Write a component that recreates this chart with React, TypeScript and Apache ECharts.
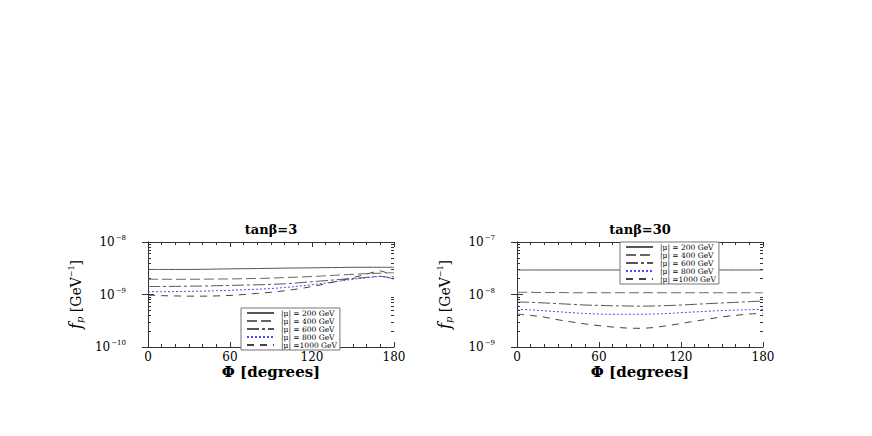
import React, { useEffect, useRef } from "react";
import * as echarts from "echarts";

// Φ in degrees
const PHI = [0, 10, 20, 30, 40, 50, 60, 70, 80, 90, 100, 110, 120, 130, 140, 150, 160, 170, 180];

const MU_NAMES = ["|μ| = 200 GeV", "|μ| = 400 GeV", "|μ| = 600 GeV", "|μ| = 800 GeV", "|μ| =1000 GeV"];

// tanβ = 3  (f_p in GeV^-1)
const T3_MU200 = [3.0e-9, 3.0e-9, 3.0e-9, 3.0e-9, 3.02e-9, 3.05e-9, 3.08e-9, 3.1e-9, 3.12e-9, 3.15e-9, 3.18e-9, 3.2e-9, 3.22e-9, 3.25e-9, 3.27e-9, 3.3e-9, 3.3e-9, 3.3e-9, 3.3e-9];
const T3_MU400 = [1.95e-9, 1.95e-9, 1.95e-9, 1.95e-9, 1.96e-9, 1.97e-9, 1.98e-9, 2.0e-9, 2.02e-9, 2.05e-9, 2.1e-9, 2.15e-9, 2.2e-9, 2.27e-9, 2.35e-9, 2.42e-9, 2.5e-9, 2.55e-9, 2.6e-9];
const T3_MU600 = [1.42e-9, 1.42e-9, 1.43e-9, 1.44e-9, 1.45e-9, 1.47e-9, 1.49e-9, 1.51e-9, 1.53e-9, 1.56e-9, 1.6e-9, 1.67e-9, 1.75e-9, 1.84e-9, 1.93e-9, 2.02e-9, 2.12e-9, 2.22e-9, 2.0e-9];
const T3_MU800 = [1.13e-9, 1.13e-9, 1.14e-9, 1.15e-9, 1.16e-9, 1.18e-9, 1.2e-9, 1.23e-9, 1.26e-9, 1.3e-9, 1.36e-9, 1.44e-9, 1.54e-9, 1.66e-9, 1.8e-9, 1.95e-9, 2.08e-9, 2.2e-9, 1.95e-9];
const T3_MU1000 = [0.97e-9, 0.95e-9, 0.94e-9, 0.93e-9, 0.93e-9, 0.94e-9, 0.96e-9, 1.0e-9, 1.05e-9, 1.1e-9, 1.18e-9, 1.28e-9, 1.42e-9, 1.6e-9, 1.82e-9, 2.1e-9, 2.45e-9, 2.8e-9, 2.1e-9];

// tanβ = 30
const T30_MU200 = [2.93e-8, 2.93e-8, 2.93e-8, 2.93e-8, 2.93e-8, 2.93e-8, 2.93e-8, 2.93e-8, 2.93e-8, 2.93e-8, 2.93e-8, 2.93e-8, 2.93e-8, 2.93e-8, 2.93e-8, 2.93e-8, 2.93e-8, 2.93e-8, 2.93e-8];
const T30_MU400 = [1.1e-8, 1.1e-8, 1.09e-8, 1.09e-8, 1.08e-8, 1.08e-8, 1.08e-8, 1.08e-8, 1.08e-8, 1.08e-8, 1.08e-8, 1.08e-8, 1.08e-8, 1.08e-8, 1.08e-8, 1.08e-8, 1.08e-8, 1.08e-8, 1.08e-8];
const T30_MU600 = [7.2e-9, 7.1e-9, 6.9e-9, 6.7e-9, 6.5e-9, 6.3e-9, 6.2e-9, 6.1e-9, 6.05e-9, 6.0e-9, 6.05e-9, 6.15e-9, 6.3e-9, 6.5e-9, 6.7e-9, 6.9e-9, 7.1e-9, 7.3e-9, 7.5e-9];
const T30_MU800 = [5.2e-9, 5.1e-9, 4.9e-9, 4.7e-9, 4.5e-9, 4.35e-9, 4.25e-9, 4.2e-9, 4.2e-9, 4.2e-9, 4.25e-9, 4.35e-9, 4.5e-9, 4.65e-9, 4.8e-9, 4.95e-9, 5.05e-9, 5.15e-9, 5.2e-9];
const T30_MU1000 = [4.25e-9, 4.0e-9, 3.7e-9, 3.3e-9, 3.0e-9, 2.75e-9, 2.55e-9, 2.4e-9, 2.3e-9, 2.27e-9, 2.35e-9, 2.55e-9, 2.8e-9, 3.1e-9, 3.4e-9, 3.75e-9, 4.0e-9, 4.25e-9, 4.4e-9];

const TITLES = ["tanβ=3", "tanβ=30"];
const Y_RANGES = [[1e-10, 1e-8], [1e-9, 1e-7]];
const X_TICKS = [0, 60, 120, 180];

const FONT = "DejaVu Serif";

const LINE_STYLES: any[] = [
  { color: "#555", width: 1, type: "solid" },
  { color: "#666", width: 1, type: [10, 4] },
  { color: "#555", width: 1, type: [12, 3, 3, 3] },
  { color: "#4a4aff", width: 1, type: [2, 2] },
  { color: "#444", width: 1, type: [7, 6] },
];

function minorValues(min: number, max: number) {
  const out: number[] = [];
  for (let d = min; d < max * 0.999; d *= 10) {
    for (let k = 2; k <= 9; k++) out.push(k * d);
  }
  return out;
}

export default function App() {
  const ref = useRef<HTMLDivElement>(null);
  useEffect(() => {
    if (!ref.current) return;
    const chart = echarts.init(ref.current, undefined, { renderer: "svg" });
    const grids = [
      { left: 148, top: 242, width: 246, height: 105 },
      { left: 517, top: 242, width: 246, height: 105 },
    ];
    const axisLine = { show: true, lineStyle: { color: "#333", width: 1 } };
    const xAxis: any[] = [];
    const yAxis: any[] = [];
    grids.forEach((_, g) => {
      xAxis.push({
        type: "value", gridIndex: g, position: "bottom", min: 0, max: 180, interval: 60,
        axisLine, splitLine: { show: false },
        axisTick: { inside: true, length: 5, lineStyle: { color: "#333" } },
        minorTick: { show: true, splitNumber: 6, length: 3, lineStyle: { color: "#333" } },
        axisLabel: { fontFamily: FONT, fontSize: 12, color: "#000", margin: 4, customValues: X_TICKS },
        name: "Φ [degrees]", nameLocation: "middle", nameGap: 17,
        nameTextStyle: { fontFamily: FONT, fontSize: 15, fontWeight: "bold", color: "#000" },
      });
      xAxis.push({
        type: "value", gridIndex: g, position: "top", min: 0, max: 180, interval: 60,
        axisLine, splitLine: { show: false },
        axisTick: { inside: true, length: 5, lineStyle: { color: "#333" } },
        minorTick: { show: true, splitNumber: 6, length: 3, lineStyle: { color: "#333" } },
        axisLabel: { show: false },
      });
      const [ymin, ymax] = Y_RANGES[g];
      const minors = minorValues(ymin, ymax);
      yAxis.push({
        type: "log", logBase: 10, gridIndex: g, position: "left", min: ymin, max: ymax,
        axisLine, splitLine: { show: false },
        axisTick: { inside: true, length: 6, lineStyle: { color: "#333" } },
        axisLabel: {
          margin: 22, color: "#000",
          formatter: (v: number) => {
            const e = Math.round(Math.log10(v));
            return `{b|10}{s|−${-e}}`;
          },
          rich: {
            b: { fontFamily: FONT, fontSize: 12, color: "#000" },
            s: { fontFamily: FONT, fontSize: 7, color: "#000", padding: [0, 0, 8, 1] },
          },
        },
        name: "{i|f}{sub|p}{n| [GeV}{sup|−1}{n|]}",
        nameLocation: "middle", nameRotate: 90, nameGap: 64,
        nameTextStyle: {
          rich: {
            i: { fontFamily: FONT, fontStyle: "italic", fontSize: 16, color: "#000" },
            sub: { fontFamily: FONT, fontStyle: "italic", fontSize: 10, color: "#000", padding: [7, 0, 0, 0] },
            n: { fontFamily: FONT, fontSize: 14, color: "#000" },
            sup: { fontFamily: FONT, fontSize: 8, color: "#000", padding: [0, 0, 9, 0] },
          },
        },
      });
      yAxis.push({
        type: "log", logBase: 10, gridIndex: g, position: "right", min: ymin, max: ymax,
        axisLine, splitLine: { show: false },
        axisTick: { inside: true, length: 6, lineStyle: { color: "#333" } },
        axisLabel: { show: false },
      });
      yAxis.push({
        type: "log", logBase: 10, gridIndex: g, position: "left", min: ymin, max: ymax,
        axisLine: { show: false }, splitLine: { show: false },
        axisTick: { show: true, inside: true, length: 3, customValues: minors, lineStyle: { color: "#333" } },
        axisLabel: { show: false },
      });
      yAxis.push({
        type: "log", logBase: 10, gridIndex: g, position: "right", min: ymin, max: ymax,
        axisLine: { show: false }, splitLine: { show: false },
        axisTick: { show: true, inside: true, length: 3, customValues: minors, lineStyle: { color: "#333" } },
        axisLabel: { show: false },
      });
    });

    const sets = [
      [T3_MU200, T3_MU400, T3_MU600, T3_MU800, T3_MU1000],
      [T30_MU200, T30_MU400, T30_MU600, T30_MU800, T30_MU1000],
    ];
    const series: any[] = [];
    sets.forEach((set, g) => {
      set.forEach((vals, i) => {
        series.push({
          type: "line", name: MU_NAMES[i], xAxisIndex: g * 2, yAxisIndex: g * 4,
          data: PHI.map((p, k) => [p, vals[k]]),
          symbol: "none", smooth: 0.35, lineStyle: LINE_STYLES[i], itemStyle: { color: LINE_STYLES[i].color },
          silent: true,
        });
      });
    });

    const legendBase = {
      orient: "vertical", itemGap: 0, itemWidth: 27, itemHeight: 5,
      backgroundColor: "#fff", borderColor: "#777", borderWidth: 1, padding: [1, 3, 1, 5],
      selectedMode: false, data: MU_NAMES,
      itemStyle: { opacity: 0, color: "rgba(0,0,0,0)", borderWidth: 0 },
      textStyle: { fontFamily: FONT, fontSize: 7.5, lineHeight: 5.6, color: "#000", padding: [0, 0, 0, 2] },
    };

    chart.setOption({
      animation: false,
      backgroundColor: "#fff",
      title: [
        { text: TITLES[0], left: 271, top: 222, padding: 0, textAlign: "center", textStyle: { fontFamily: FONT, fontSize: 13, lineHeight: 15, fontWeight: "bold", color: "#000" } },
        { text: TITLES[1], left: 640, top: 222, padding: 0, textAlign: "center", textStyle: { fontFamily: FONT, fontSize: 13, lineHeight: 15, fontWeight: "bold", color: "#000" } },
      ],
      grid: grids,
      xAxis, yAxis, series,
      legend: [
        { ...legendBase, left: 241, top: 308 },
        { ...legendBase, left: 620, top: 242 },
      ],
    });
    return () => chart.dispose();
  }, []);
  return <div ref={ref} style={{ position: "fixed", left: 0, top: 0, width: 872, height: 436 }} />;
}
